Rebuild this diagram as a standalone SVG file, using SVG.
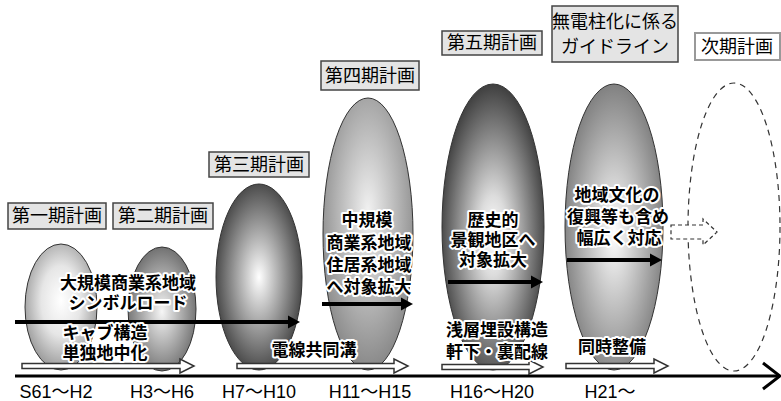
<svg xmlns="http://www.w3.org/2000/svg" width="781" height="401" viewBox="0 0 781 401">
<style>
.box{fill:#e4e4e4;stroke:#444;stroke-width:1.5}
.bt{font-family:"Liberation Sans","Noto Sans CJK JP",sans-serif;font-size:18px;fill:#000;text-anchor:middle}
.in{font-family:"Liberation Sans","Noto Sans CJK JP",sans-serif;font-size:17px;font-weight:bold;fill:#000;text-anchor:middle;stroke:#fff;stroke-width:4;stroke-linejoin:round;paint-order:stroke}
.tl{font-family:"Liberation Sans","Noto Sans CJK JP",sans-serif;font-size:18px;fill:#000;text-anchor:middle}
.ell{stroke:#333;stroke-width:1}
.hol{fill:#fff;stroke:#333;stroke-width:1.5;stroke-linejoin:miter}
.blk{stroke:#000;stroke-width:4;fill:none}
.hd{fill:#000}
</style>
<defs>
<radialGradient id="g1" cx="50%" cy="45%" r="55%"><stop offset="0" stop-color="#ffffff"/><stop offset="0.5" stop-color="#e6e6e6"/><stop offset="1" stop-color="#9a9a9a"/></radialGradient>
<radialGradient id="g2" cx="50%" cy="52%" r="55%"><stop offset="0" stop-color="#f6f6f6"/><stop offset="1" stop-color="#6a6a6a"/></radialGradient>
<radialGradient id="g3" cx="50%" cy="50%" r="55%"><stop offset="0" stop-color="#ffffff"/><stop offset="1" stop-color="#3a3a3a"/></radialGradient>
<radialGradient id="g4" cx="50%" cy="42%" r="58%"><stop offset="0" stop-color="#f2f2f2"/><stop offset="1" stop-color="#888888"/></radialGradient>
<radialGradient id="g5" cx="50%" cy="53%" r="56%"><stop offset="0" stop-color="#ffffff"/><stop offset="0.25" stop-color="#dcdcdc"/><stop offset="1" stop-color="#333333"/></radialGradient>
<radialGradient id="g6" cx="50%" cy="52%" r="56%"><stop offset="0" stop-color="#ffffff"/><stop offset="1" stop-color="#777777"/></radialGradient>
</defs>

<g id="phase1"><ellipse class="ell" cx="61" cy="307" rx="36" ry="63" fill="url(#g1)"/></g>
<g id="phase2"><ellipse class="ell" cx="162" cy="309" rx="34" ry="62" fill="url(#g2)"/></g>
<g id="phase3"><ellipse class="ell" cx="259" cy="277" rx="43" ry="93" fill="url(#g3)"/></g>
<g id="phase4"><ellipse class="ell" cx="368" cy="234" rx="45" ry="136" fill="url(#g4)"/></g>
<g id="phase5"><ellipse class="ell" cx="493" cy="227" rx="51" ry="143" fill="url(#g5)"/></g>
<g id="phase6"><ellipse class="ell" cx="614" cy="227" rx="49" ry="143" fill="url(#g6)"/></g>
<g id="next"><ellipse cx="734" cy="227" rx="46" ry="144" fill="none" stroke="#333" stroke-width="1.2" stroke-dasharray="6 5"/></g>

<g id="connectors">
<line class="blk" x1="15" y1="322" x2="290" y2="322"/><polygon class="hd" points="288,315.5 300,322 288,328.5"/>
<line class="blk" x1="322" y1="304" x2="403" y2="304"/><polygon class="hd" points="401,297.5 413,304 401,310.5"/>
<line class="blk" x1="448" y1="282" x2="533" y2="282"/><polygon class="hd" points="531,275.5 543,282 531,288.5"/>
<line class="blk" x1="567" y1="260" x2="652" y2="260"/><polygon class="hd" points="650,253.5 662,260 650,266.5"/>
<polygon class="hol" points="22,363.5 180,363.5 180,359 194,366 180,373 180,368.5 22,368.5"/>
<polygon class="hol" points="237,363.5 394,363.5 394,359 408,366 394,373 394,368.5 237,368.5"/>
<polygon class="hol" points="442,364.5 529,364.5 529,360 543,367 529,374 529,369.5 442,369.5"/>
<polygon class="hol" points="566,363.5 654,363.5 654,359 668,366 654,373 654,368.5 566,368.5"/>
<polygon points="671,225 703,225 703,219 717,232 703,245 703,239 671,239" fill="#fff" stroke="#333" stroke-width="1.2" stroke-dasharray="4 3"/>
<line x1="15" y1="376" x2="780" y2="376" stroke="#000" stroke-width="3"/>
<polyline points="763,363 780,376 763,389" fill="none" stroke="#000" stroke-width="3"/>
</g>

<g id="labels-top">
<rect class="box" x="8" y="203" width="98" height="26"/><text class="bt" x="57" y="222">第一期計画</text>
<rect class="box" x="113" y="203" width="100" height="26"/><text class="bt" x="163" y="222">第二期計画</text>
<rect class="box" x="209" y="152" width="100" height="25"/><text class="bt" x="259" y="171">第三期計画</text>
<rect class="box" x="321" y="61" width="98" height="29"/><text class="bt" x="370" y="82">第四期計画</text>
<rect class="box" x="442" y="31" width="100" height="24"/><text class="bt" x="492" y="49">第五期計画</text>
<rect class="box" x="552" y="6" width="126" height="56"/><text class="bt" x="615" y="28">無電柱化に係る</text><text class="bt" x="615" y="53">ガイドライン</text>
<rect x="695" y="33" width="85" height="27" fill="#fff" stroke="#999" stroke-width="2"/><text class="bt" x="737" y="53">次期計画</text>
</g>

<g id="texts">
<text class="in" x="128" y="289">大規模商業系地域</text>
<text class="in" x="128" y="309">シンボルロード</text>
<text class="in" x="105" y="339">キャブ構造</text>
<text class="in" x="105" y="359">単独地中化</text>
<text class="in" x="367" y="226">中規模</text>
<text class="in" x="369" y="249">商業系地域</text>
<text class="in" x="369" y="271">住居系地域</text>
<text class="in" x="369" y="293">へ対象拡大</text>
<text class="in" x="493" y="226">歴史的</text>
<text class="in" x="493" y="246">景観地区へ</text>
<text class="in" x="493" y="266">対象拡大</text>
<text class="in" x="617" y="201">地域文化の</text>
<text class="in" x="618" y="223">復興等も含め</text>
<text class="in" x="619" y="244">幅広く対応</text>
<text class="in" x="314" y="356">電線共同溝</text>
<text class="in" x="497" y="336">浅層埋設構造</text>
<text class="in" x="497" y="358">軒下・裏配線</text>
<text class="in" x="612" y="353">同時整備</text>
</g>

<g id="timeline-labels">
<text class="tl" x="56" y="398">S61〜H2</text>
<text class="tl" x="162" y="398">H3〜H6</text>
<text class="tl" x="259" y="398">H7〜H10</text>
<text class="tl" x="370" y="398">H11〜H15</text>
<text class="tl" x="492" y="398">H16〜H20</text>
<text class="tl" x="610" y="398">H21〜</text>
</g>
</svg>
